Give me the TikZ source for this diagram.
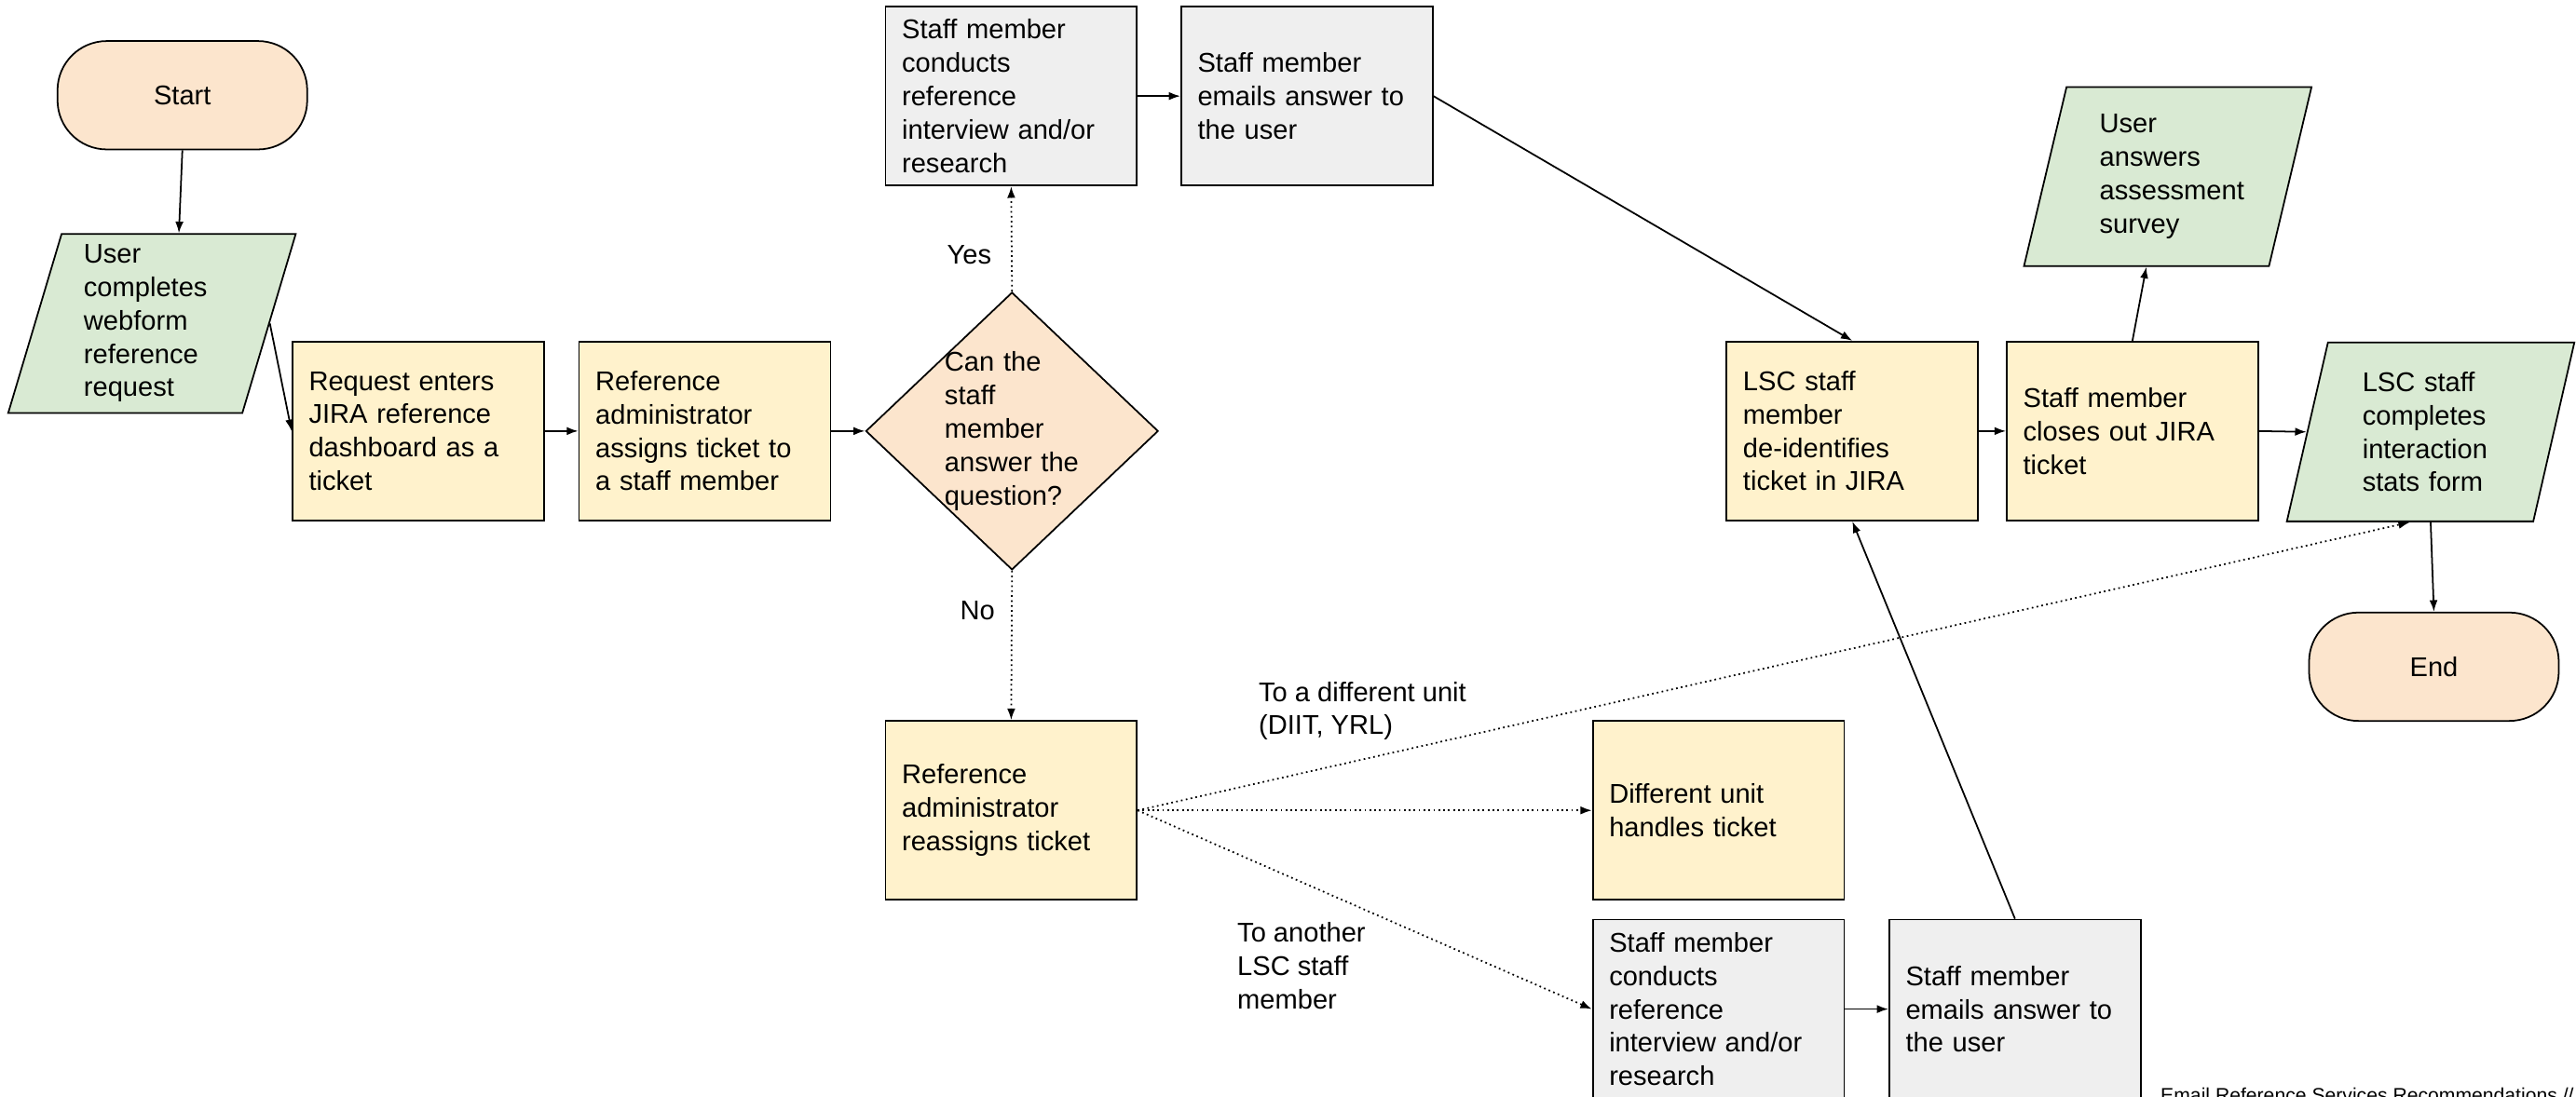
\documentclass[tikz,border=0pt]{standalone}
\usepackage{fontspec}
\setmainfont{Liberation Sans}
\usepackage{tikz}
\usetikzlibrary{shapes.geometric,arrows.meta,positioning}
\definecolor{procfill}{HTML}{FFF2CC}
\definecolor{termfill}{HTML}{FCE5CD}
\definecolor{iofill}{HTML}{D9EAD3}
\definecolor{stafffill}{HTML}{EFEFEF}

\begin{document}
\begin{tikzpicture}[x=1pt,y=1pt,yscale=-1,
  every node/.style={font=\fontsize{16.5}{20.3}\selectfont},
  proc/.style={draw,line width=1pt,fill=procfill,minimum width=153pt,minimum height=109pt,text width=133pt,inner xsep=10pt,inner ysep=2pt,align=left},
  staffproc/.style={proc,fill=stafffill},
  term/.style={draw,line width=1pt,fill=termfill,minimum width=152pt,minimum height=66pt,rounded corners=30pt},
  io/.style={draw,line width=1pt,fill=iofill,trapezium,trapezium left angle=72,trapezium right angle=108,minimum width=175pt,minimum height=109pt,trapezium stretches body,inner sep=2pt,text width=83pt,align=left},
  decision/.style={draw,line width=1pt,fill=termfill,diamond,minimum width=178pt,minimum height=169pt,inner sep=0pt},
  plain/.style={inner sep=0pt,align=left},
  arr/.style={line width=1pt,-{Latex[length=7pt,width=5pt]}},
  optarr/.style={arr,dotted}
]
\useasboundingbox (0,0) rectangle (1568,668);

% Main line
\node[term] (start) at (111,58) {Start};
\node[io] (webform) at (92.5,197) {User\\completes\\webform\\reference\\request};
\node[proc] (enters) at (254.5,262.5) {Request enters\\JIRA reference\\dashboard as a\\ticket};
\node[proc] (assign) at (429,262.5) {Reference\\administrator\\assigns ticket to\\a staff member};
\node[decision] (ask) at (616,262.5) {};
\node[plain,text width=82pt] (asktext) at (ask.center) {Can the\\staff\\member\\answer the\\question?};

% Yes branch
\node[staffproc] (conductA) at (615.5,58.5) {Staff member\\conducts\\reference\\interview and/or\\research};
\node[staffproc] (emailA) at (795.5,58.5) {Staff member\\emails answer to\\the user};

% No branch
\node[proc] (reassign) at (615.5,493.5) {Reference\\administrator\\reassigns ticket};
\node[proc] (diffunit) at (1046,493.5) {Different unit\\handles ticket};
\node[staffproc] (conductB) at (1046,614.5) {Staff member\\conducts\\reference\\interview and/or\\research};
\node[staffproc] (emailB) at (1226.5,614.5) {Staff member\\emails answer to\\the user};

% Closing steps
\node[proc] (deident) at (1127.5,262.5) {LSC staff\\member\\de-identifies\\ticket in JIRA};
\node[proc] (closeout) at (1298,262.5) {Staff member\\closes out JIRA\\ticket};
\node[io] (survey) at (1319.5,107.5) {User\\answers\\assessment\\survey};
\node[io] (stats) at (1479.5,263) {LSC staff\\completes\\interaction\\stats form};
\node[term] (finish) at (1481.5,406) {End};

% Labels
\node[plain] (yes) at (590,155) {Yes};
\node[plain] (no) at (595,372) {No};
\node[plain,anchor=west] (todiff) at (766,433) {To a different unit\\(DIIT, YRL)};
\node[plain,anchor=west] (toother) at (753,588) {To another\\LSC staff\\member};
\node[plain,anchor=base west,font=\fontsize{12}{14}\selectfont] (footer) at (1315,671) {Email Reference Services Recommendations //};

% Connectors
\draw[arr] (start.south) -- (webform.top side);
\draw[arr] (webform.right side) -- (enters.west);
\draw[arr] (enters) -- (assign);
\draw[arr] (assign) -- (ask);
\draw[optarr] (ask.north) -- (conductA.south);
\draw[optarr] (ask.south) -- (reassign.north);
\draw[arr] (conductA) -- (emailA);
\draw[arr] (emailA.east) -- (deident.north);
\draw[arr] (deident) -- (closeout);
\draw[arr] (closeout.east) -- (stats.left side);
\draw[arr] (closeout.north) -- (survey.bottom side);
\draw[arr] (stats.south) -- (finish.north);
\draw[optarr] (reassign.east) -- (diffunit.west);
\draw[optarr] (reassign.east) -- (stats.bottom side);
\draw[optarr] (reassign.east) -- (conductB.west);
\draw[arr] (conductB) -- (emailB);
\draw[arr] (emailB.north) -- (deident.south);
\end{tikzpicture}
\end{document}
